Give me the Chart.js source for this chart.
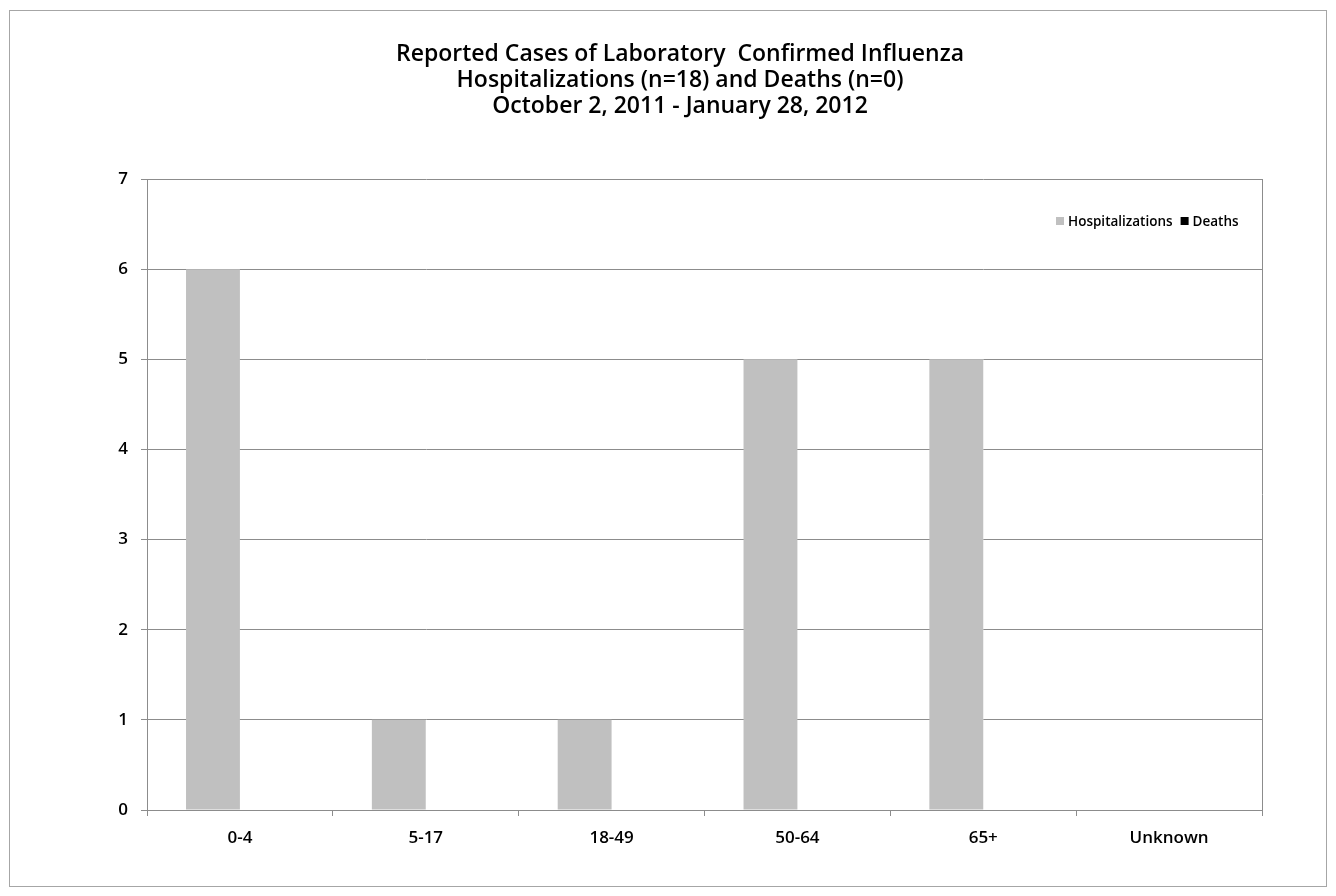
<!DOCTYPE html>
<html>
<head>
<meta charset="utf-8">
<script src="https://cdn.jsdelivr.net/npm/chart.js@4"></script>
<style>
  html, body { margin: 0; padding: 0; background: #fff; }
  #wrap { width: 1336px; height: 896px; }
</style>
</head>
<body>
<div id="wrap"><canvas id="fluChart" width="1336" height="896"></canvas></div>
<script>
const ageGroups = ["0-4", "5-17", "18-49", "50-64", "65+", "Unknown"];
const hospitalizations = [6, 1, 1, 5, 5, 0];
const deaths = [0, 0, 0, 0, 0, 0];
const titleLines = [
  "Reported Cases of Laboratory  Confirmed Influenza",
  "Hospitalizations (n=18) and Deaths (n=0)",
  "October 2, 2011 - January 28, 2012",
];

const FONT = "'Open Sans', Lato, sans-serif";
const GRID = "#8c8c8c";

// outer frame, title (centred on the whole frame), plot border and the
// legend that sits inside the plot
const framePlugin = {
  id: "frame",
  beforeDraw(chart) {
    const ctx = chart.ctx;
    ctx.save();
    ctx.fillStyle = "#fff";
    ctx.fillRect(0, 0, chart.width, chart.height);
    ctx.strokeStyle = "#a6a6a6";
    ctx.lineWidth = 1;
    ctx.strokeRect(9.5, 10.5, 1317, 876);

    ctx.fillStyle = "#000";
    ctx.font = "600 23px " + FONT;
    ctx.textAlign = "center";
    ctx.textBaseline = "middle";
    titleLines.forEach((line, i) => {
      ctx.fillText(line, 680, 54 + i * 26);
    });
    ctx.restore();
  },
  afterDraw(chart) {
    const ctx = chart.ctx;
    const a = chart.chartArea;
    ctx.save();
    ctx.strokeStyle = GRID;
    ctx.lineWidth = 1;
    ctx.beginPath();
    ctx.moveTo(Math.round(a.right) + 0.5, a.top);
    ctx.lineTo(Math.round(a.right) + 0.5, a.bottom);
    ctx.stroke();

    // legend
    ctx.font = "600 13.5px " + FONT;
    ctx.textBaseline = "middle";
    const y = 221;
    let x = 1056;
    chart.data.datasets.forEach((ds) => {
      ctx.fillStyle = ds.backgroundColor;
      ctx.fillRect(x, y - 4, 8, 8);
      x += 12;
      ctx.fillStyle = "#000";
      ctx.fillText(ds.label, x, y + 1);
      x += ctx.measureText(ds.label).width + 8;
    });
    ctx.restore();
  },
};

new Chart(document.getElementById("fluChart"), {
  type: "bar",
  data: {
    labels: ageGroups,
    datasets: [
      {
        label: "Hospitalizations",
        data: hospitalizations,
        backgroundColor: "#c0c0c0",
      },
      {
        label: "Deaths",
        data: deaths,
        backgroundColor: "#000000",
      },
    ],
  },
  options: {
    responsive: false,
    animation: false,
    devicePixelRatio: 1,
    layout: { padding: { left: 0, right: 74, top: 179, bottom: 10 } },
    datasets: {
      bar: { categoryPercentage: 0.58, barPercentage: 1.0 },
    },
    scales: {
      x: {
        grid: {
          drawOnChartArea: false,
          drawTicks: true,
          tickLength: 6,
          color: GRID,
        },
        border: { color: GRID },
        ticks: {
          color: "#000",
          padding: 12,
          font: { family: FONT, size: 17, weight: "600" },
        },
        afterFit: (s) => { s.height = 76; },
      },
      y: {
        min: 0,
        max: 7,
        ticks: {
          stepSize: 1,
          color: "#000",
          padding: 13,
          font: { family: FONT, size: 17, weight: "600" },
        },
        grid: { color: GRID, tickLength: 6 },
        border: { color: GRID },
        afterFit: (s) => { s.width = 147; },
      },
    },
    plugins: {
      legend: { display: false },
      tooltip: { enabled: false },
      title: { display: false },
    },
  },
  plugins: [framePlugin],
});
</script>
</body>
</html>
